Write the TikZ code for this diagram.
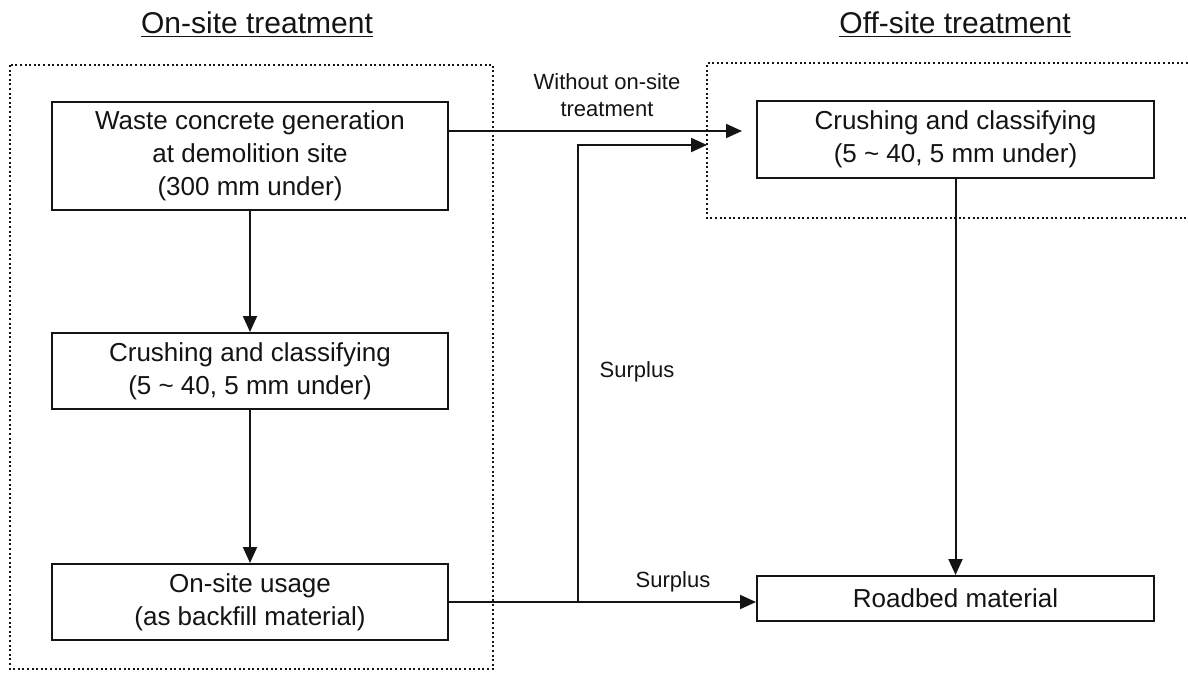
\documentclass[tikz,border=0pt]{standalone}
\usepackage{fontspec}
\setmainfont{Liberation Sans}
\usetikzlibrary{arrows.meta,positioning,calc}
\definecolor{WsInk}{RGB}{20,20,20}
\tikzset{
  ws/box/.style={
    draw=WsInk,
    line width=1pt,
    fill=white,
    align=center,
    text=WsInk,
    inner sep=0pt,
    font=\fontsize{13}{16.5}\selectfont
  },
  ws/arrow/.style={-{Triangle[length=8pt,width=7pt]}, line width=1pt, draw=WsInk},
  ws/frame/.style={draw=WsInk, line width=1.2pt, dash pattern=on 1pt off 1.3pt},
  ws/title/.style={font=\fontsize{15}{18}\selectfont, text=WsInk, align=center},
  ws/label/.style={font=\fontsize{11}{13.5}\selectfont, text=WsInk, align=center}
}
\begin{document}
\begin{tikzpicture}[x=0.5pt,y=-0.5pt]
  \useasboundingbox (0,0) rectangle (1188,674);
  % frames
  \draw[ws/frame] (10,65) rectangle (493,669);
  \coordinate (offNW) at (707,63);
  \coordinate (offSW) at (707,218);
  \draw[ws/frame] (1188,63) -- (offNW) -- (offSW) -- (1188,218);
  \node[ws/title] (ontitle) at (257,25) {\underline{On-site treatment}};
  \node[ws/title] (offtitle) at (955,25) {\underline{Off-site treatment}};
  % on-site chain
  \node[ws/box,minimum width=198pt,minimum height=54pt] (gen) at (250,156)
    {Waste concrete generation\\at demolition site\\(300 mm under)};
  \node[ws/box,minimum width=198pt,minimum height=38pt] (crush) at (250,371)
    {Crushing and classifying\\(5 \textasciitilde{} 40, 5 mm under)};
  \node[ws/box,minimum width=198pt,minimum height=38pt] (usage) at (250,602)
    {On-site usage\\(as backfill material)};
  % off-site
  \node[ws/box,minimum width=198.5pt,minimum height=38.5pt] (offcrush) at (955.5,139.5)
    {Crushing and classifying\\(5 \textasciitilde{} 40, 5 mm under)};
  \node[ws/box,minimum width=198.5pt,minimum height=22.5pt] (roadbed) at (955.5,598.5)
    {Roadbed material};
  \draw[ws/arrow] (gen.south) -- (gen.south |- crush.north);
  \draw[ws/arrow] (crush.south) -- (crush.south |- usage.north);
  \draw[ws/arrow] (offcrush.south) -- (offcrush.south |- roadbed.north);
  \coordinate (skip) at (742,131);
  \draw[ws/arrow] (gen.east |- skip) -- (skip);
  \node[ws/label] (skiplabel) at (607,95) {Without on-site\\treatment};
  \draw[ws/arrow] (usage.east) -- (usage.east -| roadbed.west);
  \coordinate (split) at (578,602);
  \draw[ws/arrow] (split) |- (offNW |- 0,145);
  \node[ws/label] (surplusup) at (637,372) {Surplus};
  \node[ws/label] (surplusright) at (673,582) {Surplus};
\end{tikzpicture}
\end{document}
